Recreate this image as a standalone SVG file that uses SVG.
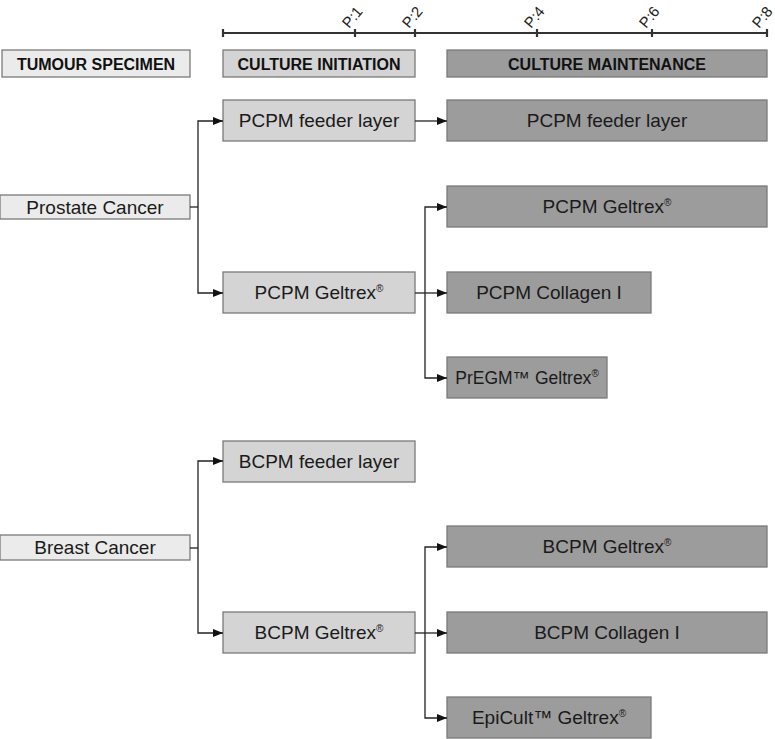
<svg xmlns="http://www.w3.org/2000/svg" width="775" height="739" viewBox="0 0 775 739">
<defs>
<marker id="ah" markerWidth="10" markerHeight="8" refX="10" refY="4" orient="auto" markerUnits="userSpaceOnUse">
<path d="M0,0 L10,4 L0,8 Z" fill="#111"/>
</marker>
<style>
.box rect{stroke:#7a7a7a;stroke-width:1.3}
.spec rect{fill:#ebebeb}
.init rect{fill:#d4d4d4}
.main rect{fill:#9c9c9c}
.t{font-family:"Liberation Sans",Arial,sans-serif;font-size:19px;fill:#1a1a1a;text-anchor:middle}
.h{font-family:"Liberation Sans",Arial,sans-serif;font-size:16px;font-weight:bold;fill:#111;text-anchor:middle}
.sup{font-size:10px}
.p{font-family:"Liberation Sans",Arial,sans-serif;font-size:15px;fill:#222}
.c{fill:none;stroke:#222;stroke-width:1.3}
.tl{stroke:#333;stroke-width:2.2;fill:none}
</style>
</defs>
<rect width="775" height="739" fill="#fff"/>

<g id="timeline">
<line class="tl" x1="223" y1="33" x2="767" y2="33"/>
<path class="tl" d="M223,29V37M355,29V37M415,29V37M537,29V37M652,29V37M767,29V37"/>
<text class="p" transform="translate(349,29) rotate(-50)">P:1</text>
<text class="p" transform="translate(409,29) rotate(-50)">P:2</text>
<text class="p" transform="translate(531,29) rotate(-50)">P:4</text>
<text class="p" transform="translate(646,29) rotate(-50)">P:6</text>
<text class="p" transform="translate(759,29) rotate(-50)">P:8</text>
</g>

<g id="hdr-specimen" class="box spec"><rect x="2" y="50" width="188" height="27"/><text class="h" x="96" y="69.5">TUMOUR SPECIMEN</text></g>
<g id="hdr-initiation" class="box init"><rect x="223" y="50" width="192" height="27"/><text class="h" x="319" y="69.5">CULTURE INITIATION</text></g>
<g id="hdr-maintenance" class="box main"><rect x="447" y="50" width="320" height="27"/><text class="h" x="607" y="69.5">CULTURE MAINTENANCE</text></g>

<g id="prostate" class="box spec"><rect x="0" y="195" width="190" height="24"/><text class="t" x="95" y="213.5">Prostate Cancer</text></g>
<g id="breast" class="box spec"><rect x="0" y="535" width="190" height="25"/><text class="t" x="95" y="554">Breast Cancer</text></g>

<g id="pcpm-feeder-init" class="box init"><rect x="223" y="100" width="192" height="41"/><text class="t" x="319" y="127">PCPM feeder layer</text></g>
<g id="pcpm-geltrex-init" class="box init"><rect x="223" y="272" width="192" height="41"/><text class="t" x="319" y="299">PCPM Geltrex<tspan class="sup" dy="-7">®</tspan></text></g>
<g id="bcpm-feeder-init" class="box init"><rect x="223" y="441" width="192" height="41"/><text class="t" x="319" y="468">BCPM feeder layer</text></g>
<g id="bcpm-geltrex-init" class="box init"><rect x="223" y="612" width="192" height="41"/><text class="t" x="319" y="639">BCPM Geltrex<tspan class="sup" dy="-7">®</tspan></text></g>

<g id="pcpm-feeder-main" class="box main"><rect x="447" y="100" width="320" height="41"/><text class="t" x="607" y="127">PCPM feeder layer</text></g>
<g id="pcpm-geltrex-main" class="box main"><rect x="447" y="186" width="320" height="41"/><text class="t" x="607" y="213">PCPM Geltrex<tspan class="sup" dy="-7">®</tspan></text></g>
<g id="pcpm-collagen-main" class="box main"><rect x="447" y="272" width="204" height="41"/><text class="t" x="549" y="299">PCPM Collagen I</text></g>
<g id="pregm-geltrex-main" class="box main"><rect x="447" y="357" width="160" height="41"/><text class="t" x="527" y="384" style="font-size:17.5px">PrEGM™ Geltrex<tspan class="sup" dy="-7">®</tspan></text></g>
<g id="bcpm-geltrex-main" class="box main"><rect x="447" y="526" width="320" height="41"/><text class="t" x="607" y="553">BCPM Geltrex<tspan class="sup" dy="-7">®</tspan></text></g>
<g id="bcpm-collagen-main" class="box main"><rect x="447" y="612" width="320" height="41"/><text class="t" x="607" y="639">BCPM Collagen I</text></g>
<g id="epicult-geltrex-main" class="box main"><rect x="447" y="697" width="204" height="41"/><text class="t" x="549" y="724">EpiCult™ Geltrex<tspan class="sup" dy="-7">®</tspan></text></g>

<g id="connectors">
<path class="c" d="M190,207H198"/>
<path class="c" d="M198,207V121H223" marker-end="url(#ah)"/>
<path class="c" d="M198,207V293H223" marker-end="url(#ah)"/>
<path class="c" d="M415,121H447" marker-end="url(#ah)"/>
<path class="c" d="M415,293H447" marker-end="url(#ah)"/>
<path class="c" d="M425,293V207H447" marker-end="url(#ah)"/>
<path class="c" d="M425,293V378H447" marker-end="url(#ah)"/>
<path class="c" d="M190,548H198"/>
<path class="c" d="M198,548V461H223" marker-end="url(#ah)"/>
<path class="c" d="M198,548V633H223" marker-end="url(#ah)"/>
<path class="c" d="M415,633H447" marker-end="url(#ah)"/>
<path class="c" d="M425,633V547H447" marker-end="url(#ah)"/>
<path class="c" d="M425,633V718H447" marker-end="url(#ah)"/>
</g>
</svg>
